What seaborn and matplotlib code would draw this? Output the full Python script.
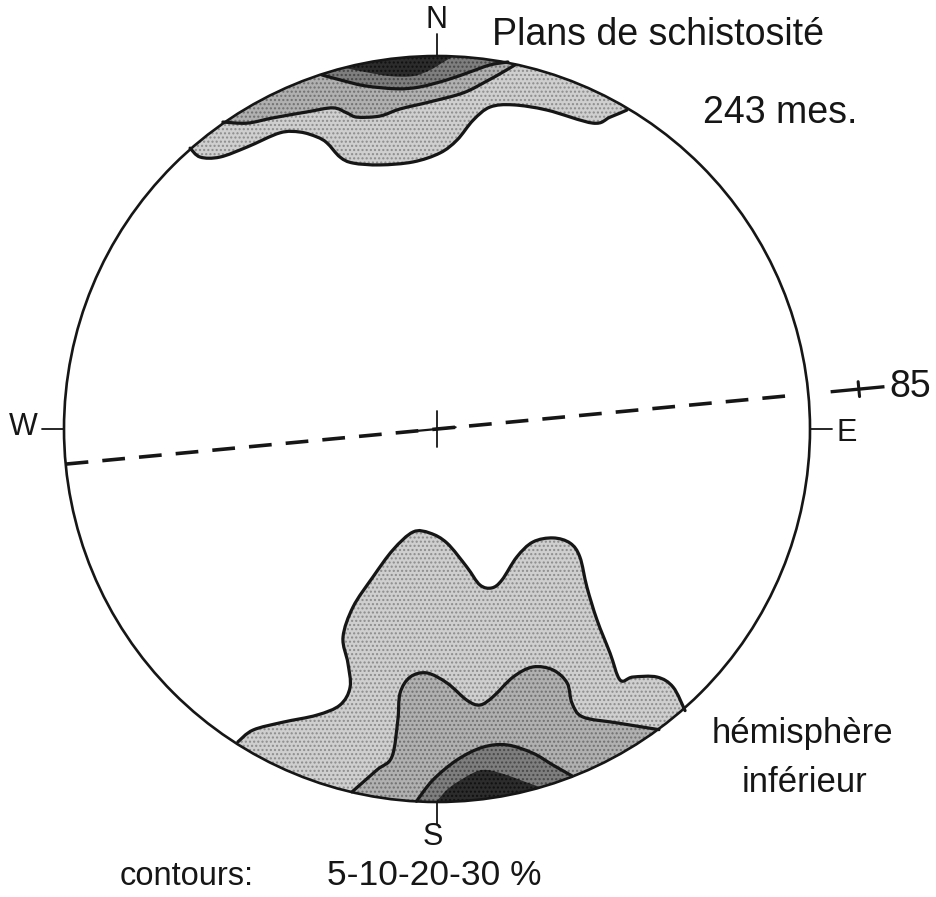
import numpy as np
import pandas as pd
import matplotlib
matplotlib.use("Agg")
import matplotlib.pyplot as plt
from matplotlib.patches import Circle, PathPatch
from matplotlib.path import Path
import seaborn as sns

# ---------------------------------------------------------------------------
# Schistosity poles, lower hemisphere net (unit radius, x = east, y = north)
# Contour outlines for the 5-10-20-30 % density levels
# ---------------------------------------------------------------------------
contour_levels = [5, 10, 20, 30]
n_measures = 243

north_05_x = [-0.662, -0.635, -0.582, -0.509, -0.421, -0.367, -0.322, -0.295, -0.260, -0.225,
              -0.153, -0.064, 0.008, 0.054, 0.097, 0.142, 0.204, 0.295, 0.418, 0.464, 0.509]
north_05_y = [0.753, 0.729, 0.729, 0.756, 0.794, 0.796, 0.783, 0.767, 0.729, 0.713,
              0.708, 0.716, 0.740, 0.775, 0.828, 0.863, 0.869, 0.855, 0.820, 0.836, 0.855]

north_10_x = [-0.574, -0.509, -0.440, -0.349, -0.279, -0.241, -0.214, -0.153, -0.099, -0.019,
              0.070, 0.134, 0.177, 0.209]
north_10_y = [0.823, 0.820, 0.834, 0.850, 0.861, 0.847, 0.836, 0.839, 0.858, 0.877,
              0.901, 0.933, 0.957, 0.976]

north_20_x = [-0.308, -0.260, -0.193, -0.107, -0.046, 0.027, 0.088, 0.142, 0.190]
north_20_y = [0.949, 0.936, 0.920, 0.912, 0.917, 0.936, 0.957, 0.976, 0.984]

north_30_x = [-0.247, -0.193, -0.126, -0.064, -0.019, 0.013, 0.040]
north_30_y = [0.968, 0.957, 0.946, 0.946, 0.962, 0.981, 0.997]

south_05_x = [-0.534, -0.493, -0.413, -0.322, -0.260, -0.233, -0.239, -0.252, -0.225, -0.172,
              -0.118, -0.064, -0.019, 0.027, 0.080, 0.115, 0.147, 0.174, 0.214, 0.257,
              0.311, 0.357, 0.383, 0.402, 0.429, 0.464, 0.491, 0.525, 0.590, 0.633, 0.665]
south_05_y = [-0.839, -0.807, -0.786, -0.767, -0.740, -0.692, -0.627, -0.558, -0.477, -0.397,
              -0.324, -0.276, -0.279, -0.306, -0.370, -0.418, -0.426, -0.405, -0.343, -0.303,
              -0.292, -0.306, -0.343, -0.424, -0.512, -0.601, -0.673, -0.665, -0.665, -0.692, -0.755]

south_10_x = [-0.228, -0.161, -0.121, -0.105, -0.099, -0.072, -0.027, 0.027, 0.080, 0.115,
              0.150, 0.204, 0.257, 0.311, 0.349, 0.362, 0.391, 0.483, 0.595]
south_10_y = [-0.973, -0.914, -0.879, -0.780, -0.708, -0.665, -0.654, -0.681, -0.727, -0.740,
              -0.718, -0.665, -0.638, -0.646, -0.681, -0.735, -0.772, -0.788, -0.806]

south_20_x = [-0.055, -0.011, 0.054, 0.123, 0.188, 0.257, 0.311, 0.362]
south_20_y = [-0.998, -0.941, -0.887, -0.853, -0.847, -0.869, -0.901, -0.930]

south_30_x = [0.000, 0.035, 0.097, 0.134, 0.188, 0.231, 0.276]
south_30_y = [-0.997, -0.960, -0.922, -0.914, -0.928, -0.944, -0.960]

# Mean schistosity plane: strike (azimuth, degrees) and dip
plane_strike = 84.6
plane_dip = 85

# Compass labels
compass = ["N", "E", "S", "W"]

# ---------------------------------------------------------------------------
sns.set_theme(style="white")
plt.rcParams["font.family"] = ["Liberation Sans", "DejaVu Sans"]
plt.rcParams["hatch.linewidth"] = 1.0

W_PX, H_PX, DPI = 936, 897, 100
CX, CY, R = 437.0, 429.0, 373.0          # net centre and radius in pixels

fig = plt.figure(figsize=(W_PX / DPI, H_PX / DPI), dpi=DPI)
fig.patch.set_facecolor("white")
ax = fig.add_axes([0, 0, 1, 1])
ax.set_xlim(-CX / R, (W_PX - CX) / R)
ax.set_ylim((CY - H_PX) / R, CY / R)
ax.axis("off")

ink = "#161616"
shades = {5: ("#cfcfcf", "#8c8c8c"), 10: ("#b0b0b0", "#707070"),
          20: ("#7e7e7e", "#474747"), 30: ("#2c2c2c", "#101010")}

net = Circle((0, 0), 1.0, facecolor="none", edgecolor=ink, lw=1.9, zorder=6)
ax.add_patch(net)


def smooth_path(xs, ys):
    """Vertices and codes of a smooth Bezier curve passing through the points."""
    p = np.column_stack([xs, ys])
    ext = np.vstack([p[0], p, p[-1]])
    verts, codes = [p[0]], [Path.MOVETO]
    for i in range(len(p) - 1):
        a, b, c, d = ext[i], ext[i + 1], ext[i + 2], ext[i + 3]
        verts += [b + (c - a) / 6.0, c - (d - b) / 6.0, c]
        codes += [Path.CURVE4] * 3
    return verts, codes


def region_path(xs, ys, pole_deg):
    """Outline closed along an arc outside the net, passing the given azimuth."""
    verts, codes = smooth_path(xs, ys)
    a0 = np.degrees(np.arctan2(ys[0], xs[0])) % 360
    a1 = np.degrees(np.arctan2(ys[-1], xs[-1])) % 360
    ccw = (a0 - a1) % 360
    if (pole_deg - a1) % 360 < ccw:
        arc = a1 + np.linspace(0, ccw, 40)
    else:
        arc = a1 - np.linspace(0, (a1 - a0) % 360, 40)
    arc = np.radians(arc)
    for ang in arc:
        verts.append(np.array([1.3 * np.cos(ang), 1.3 * np.sin(ang)]))
        codes.append(Path.LINETO)
    verts.append(verts[0])
    codes.append(Path.CLOSEPOLY)
    return Path(np.array(verts), codes)


groups = [
    (90, [(5, north_05_x, north_05_y), (10, north_10_x, north_10_y),
          (20, north_20_x, north_20_y), (30, north_30_x, north_30_y)]),
    (270, [(5, south_05_x, south_05_y), (10, south_10_x, south_10_y),
           (20, south_20_x, south_20_y), (30, south_30_x, south_30_y)]),
]

for pole, levels in groups:
    for lvl, xs, ys in levels:
        face, dots = shades[lvl]
        fill = PathPatch(region_path(xs, ys, pole), facecolor=face, edgecolor=dots,
                         lw=0, hatch="....", zorder=2 + lvl / 100)
        ax.add_patch(fill)
        fill.set_clip_path(net)
        if lvl < 30:
            v, c = smooth_path(xs, ys)
            ax.add_patch(PathPatch(Path(np.array(v), c), facecolor="none", edgecolor=ink,
                                   lw=2.3, capstyle="round", joinstyle="round", zorder=4))

# Trace of the mean plane through the centre
th = np.radians(90 - plane_strike)
ux, uy = np.cos(th), np.sin(th)
t_dash = np.array([-1.0, 0.97])
trace = pd.DataFrame({"x": t_dash * ux, "y": t_dash * uy})
sns.lineplot(data=trace, x="x", y="y", sort=False, estimator=None, color=ink,
             lw=2.6, ax=ax, legend=False, zorder=5)
ax.lines[-1].set_linestyle((0, (6.3, 3.9)))

# Dip symbol outside the net
t_out = np.array([1.06, 1.205])
ax.plot(t_out * ux, t_out * uy, color=ink, lw=2.4, solid_capstyle="butt", zorder=5)
tk = 1.136
ax.plot([tk * ux + 0.02 * uy, tk * ux - 0.02 * uy],
        [tk * uy - 0.02 * ux, tk * uy + 0.02 * ux], color=ink, lw=2.2, zorder=5)
ax.text(1.212, 0.086, f"{plane_dip}", fontsize=27, color=ink, ha="left", va="baseline")

# Centre cross
ax.plot([0, 0], [-0.048, 0.048], color=ink, lw=1.3, zorder=5)
ax.plot([-0.05 * ux, 0.05 * ux], [-0.05 * uy, 0.05 * uy], color=ink, lw=1.6, zorder=5)

# Compass ticks and letters
tick_len = 0.058
for name in compass:
    ang = {"N": 90, "E": 0, "S": 270, "W": 180}[name]
    c, s = np.cos(np.radians(ang)), np.sin(np.radians(ang))
    ax.plot([c, (1 + tick_len) * c], [s, (1 + tick_len) * s], color=ink, lw=1.3, zorder=5)
label_pos = {"N": (0.0, 1.097), "E": (1.099, -0.012), "S": (-0.011, -1.094), "W": (-1.110, 0.005)}
for name in compass:
    x, y = label_pos[name]
    ax.text(x, y, name, fontsize=22, color=ink, ha="center", va="center")

# Annotations
ax.text(0.147, 1.029, "Plans de schistosité", fontsize=27, color=ink, ha="left", va="baseline")
ax.text(0.713, 0.820, f"{n_measures} mes.", fontsize=27, color=ink, ha="left", va="baseline")
ax.text(0.981, -0.842, "hémisphère", fontsize=25, color=ink, ha="center", va="baseline")
ax.text(0.984, -0.973, "inférieur", fontsize=25, color=ink, ha="center", va="baseline")
ax.text(-0.850, -1.223, "contours:", fontsize=23.5, color=ink, ha="left", va="baseline")
ax.text(-0.295, -1.223, "-".join(str(v) for v in contour_levels) + " %", fontsize=25.5,
        color=ink, ha="left", va="baseline")

fig.savefig("out.png", dpi=DPI, facecolor="white")
